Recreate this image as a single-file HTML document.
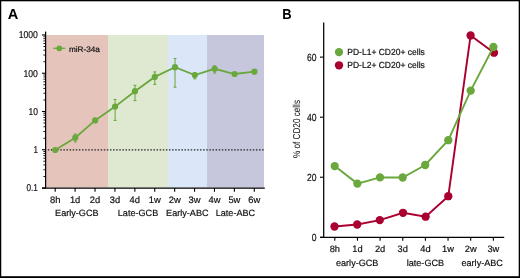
<!DOCTYPE html>
<html><head><meta charset="utf-8"><style>
html,body{margin:0;padding:0;background:#fff;width:520px;height:278px;overflow:hidden;position:relative}
.t{font-family:"Liberation Sans",sans-serif;fill:#111;stroke:#111;stroke-width:0.2px;text-rendering:geometricPrecision}
.ttl{font-family:"Liberation Sans",sans-serif;font-size:14px;font-weight:bold;fill:#000;text-rendering:geometricPrecision}
</style></head><body>
<svg width="520" height="278" viewBox="0 0 520 278" style="position:absolute;left:0;top:0;will-change:transform">
<rect x="0" y="0" width="520" height="278" fill="#fff"/>
<rect x="46" y="35" width="62" height="152.5" fill="#e5c5bb"/>
<rect x="108" y="35" width="60" height="152.5" fill="#dfe8d0"/>
<rect x="168" y="35" width="39" height="152.5" fill="#dbe7f8"/>
<rect x="207" y="35" width="57" height="152.5" fill="#c6c7dc"/>
<line x1="47.85" y1="149.8" x2="264" y2="149.8" stroke="#222" stroke-width="1.3" stroke-dasharray="1.5 1.606"/>
<line x1="45.6" y1="31.6" x2="45.6" y2="188.6" stroke="#000" stroke-width="1.25"/>
<line x1="42" y1="188.0" x2="264.8" y2="188.0" stroke="#000" stroke-width="1.25"/>
<line x1="42" y1="188.00" x2="45.6" y2="188.00" stroke="#000" stroke-width="1.1"/>
<line x1="43.4" y1="176.49" x2="45.6" y2="176.49" stroke="#000" stroke-width="0.9"/>
<line x1="43.4" y1="169.75" x2="45.6" y2="169.75" stroke="#000" stroke-width="0.9"/>
<line x1="43.4" y1="164.97" x2="45.6" y2="164.97" stroke="#000" stroke-width="0.9"/>
<line x1="43.4" y1="161.26" x2="45.6" y2="161.26" stroke="#000" stroke-width="0.9"/>
<line x1="43.4" y1="158.24" x2="45.6" y2="158.24" stroke="#000" stroke-width="0.9"/>
<line x1="43.4" y1="155.67" x2="45.6" y2="155.67" stroke="#000" stroke-width="0.9"/>
<line x1="43.4" y1="153.46" x2="45.6" y2="153.46" stroke="#000" stroke-width="0.9"/>
<line x1="43.4" y1="151.50" x2="45.6" y2="151.50" stroke="#000" stroke-width="0.9"/>
<line x1="42" y1="149.75" x2="45.6" y2="149.75" stroke="#000" stroke-width="1.1"/>
<line x1="43.4" y1="138.24" x2="45.6" y2="138.24" stroke="#000" stroke-width="0.9"/>
<line x1="43.4" y1="131.50" x2="45.6" y2="131.50" stroke="#000" stroke-width="0.9"/>
<line x1="43.4" y1="126.72" x2="45.6" y2="126.72" stroke="#000" stroke-width="0.9"/>
<line x1="43.4" y1="123.01" x2="45.6" y2="123.01" stroke="#000" stroke-width="0.9"/>
<line x1="43.4" y1="119.99" x2="45.6" y2="119.99" stroke="#000" stroke-width="0.9"/>
<line x1="43.4" y1="117.42" x2="45.6" y2="117.42" stroke="#000" stroke-width="0.9"/>
<line x1="43.4" y1="115.21" x2="45.6" y2="115.21" stroke="#000" stroke-width="0.9"/>
<line x1="43.4" y1="113.25" x2="45.6" y2="113.25" stroke="#000" stroke-width="0.9"/>
<line x1="42" y1="111.50" x2="45.6" y2="111.50" stroke="#000" stroke-width="1.1"/>
<line x1="43.4" y1="99.99" x2="45.6" y2="99.99" stroke="#000" stroke-width="0.9"/>
<line x1="43.4" y1="93.25" x2="45.6" y2="93.25" stroke="#000" stroke-width="0.9"/>
<line x1="43.4" y1="88.47" x2="45.6" y2="88.47" stroke="#000" stroke-width="0.9"/>
<line x1="43.4" y1="84.76" x2="45.6" y2="84.76" stroke="#000" stroke-width="0.9"/>
<line x1="43.4" y1="81.74" x2="45.6" y2="81.74" stroke="#000" stroke-width="0.9"/>
<line x1="43.4" y1="79.17" x2="45.6" y2="79.17" stroke="#000" stroke-width="0.9"/>
<line x1="43.4" y1="76.96" x2="45.6" y2="76.96" stroke="#000" stroke-width="0.9"/>
<line x1="43.4" y1="75.00" x2="45.6" y2="75.00" stroke="#000" stroke-width="0.9"/>
<line x1="42" y1="73.25" x2="45.6" y2="73.25" stroke="#000" stroke-width="1.1"/>
<line x1="43.4" y1="61.74" x2="45.6" y2="61.74" stroke="#000" stroke-width="0.9"/>
<line x1="43.4" y1="55.00" x2="45.6" y2="55.00" stroke="#000" stroke-width="0.9"/>
<line x1="43.4" y1="50.22" x2="45.6" y2="50.22" stroke="#000" stroke-width="0.9"/>
<line x1="43.4" y1="46.51" x2="45.6" y2="46.51" stroke="#000" stroke-width="0.9"/>
<line x1="43.4" y1="43.49" x2="45.6" y2="43.49" stroke="#000" stroke-width="0.9"/>
<line x1="43.4" y1="40.92" x2="45.6" y2="40.92" stroke="#000" stroke-width="0.9"/>
<line x1="43.4" y1="38.71" x2="45.6" y2="38.71" stroke="#000" stroke-width="0.9"/>
<line x1="43.4" y1="36.75" x2="45.6" y2="36.75" stroke="#000" stroke-width="0.9"/>
<line x1="42" y1="35.00" x2="45.6" y2="35.00" stroke="#000" stroke-width="1.1"/>
<text transform="translate(37.90,191.30) scale(0.820,1)" text-anchor="end" class="t" font-size="10">0.1</text>
<text transform="translate(37.90,153.05) scale(0.800,1)" text-anchor="end" class="t" font-size="10">1</text>
<text transform="translate(37.90,114.80) scale(0.850,1)" text-anchor="end" class="t" font-size="10">10</text>
<text transform="translate(37.90,76.55) scale(0.860,1)" text-anchor="end" class="t" font-size="10">100</text>
<text transform="translate(37.90,38.30) scale(0.860,1)" text-anchor="end" class="t" font-size="10">1000</text>
<line x1="55.20" y1="188.0" x2="55.20" y2="191.8" stroke="#000" stroke-width="1.1"/>
<text transform="translate(55.20,203.00)" text-anchor="middle" class="t" font-size="9.4">8h</text>
<line x1="75.11" y1="188.0" x2="75.11" y2="191.8" stroke="#000" stroke-width="1.1"/>
<text transform="translate(75.11,203.00)" text-anchor="middle" class="t" font-size="9.4">1d</text>
<line x1="95.02" y1="188.0" x2="95.02" y2="191.8" stroke="#000" stroke-width="1.1"/>
<text transform="translate(95.02,203.00)" text-anchor="middle" class="t" font-size="9.4">2d</text>
<line x1="114.93" y1="188.0" x2="114.93" y2="191.8" stroke="#000" stroke-width="1.1"/>
<text transform="translate(114.93,203.00)" text-anchor="middle" class="t" font-size="9.4">3d</text>
<line x1="134.84" y1="188.0" x2="134.84" y2="191.8" stroke="#000" stroke-width="1.1"/>
<text transform="translate(134.84,203.00)" text-anchor="middle" class="t" font-size="9.4">4d</text>
<line x1="154.75" y1="188.0" x2="154.75" y2="191.8" stroke="#000" stroke-width="1.1"/>
<text transform="translate(154.75,203.00)" text-anchor="middle" class="t" font-size="9.4">1w</text>
<line x1="174.66" y1="188.0" x2="174.66" y2="191.8" stroke="#000" stroke-width="1.1"/>
<text transform="translate(174.66,203.00)" text-anchor="middle" class="t" font-size="9.4">2w</text>
<line x1="194.57" y1="188.0" x2="194.57" y2="191.8" stroke="#000" stroke-width="1.1"/>
<text transform="translate(194.57,203.00)" text-anchor="middle" class="t" font-size="9.4">3w</text>
<line x1="214.48" y1="188.0" x2="214.48" y2="191.8" stroke="#000" stroke-width="1.1"/>
<text transform="translate(214.48,203.00)" text-anchor="middle" class="t" font-size="9.4">4w</text>
<line x1="234.39" y1="188.0" x2="234.39" y2="191.8" stroke="#000" stroke-width="1.1"/>
<text transform="translate(234.39,203.00)" text-anchor="middle" class="t" font-size="9.4">5w</text>
<line x1="254.30" y1="188.0" x2="254.30" y2="191.8" stroke="#000" stroke-width="1.1"/>
<text transform="translate(254.30,203.00)" text-anchor="middle" class="t" font-size="9.4">6w</text>
<text transform="translate(76.80,215.80)" text-anchor="middle" class="t" font-size="9.1">Early-GCB</text>
<text transform="translate(138.00,215.80)" text-anchor="middle" class="t" font-size="9.1">Late-GCB</text>
<text transform="translate(187.30,215.80)" text-anchor="middle" class="t" font-size="9.1">Early-ABC</text>
<text transform="translate(235.40,215.80)" text-anchor="middle" class="t" font-size="9.1">Late-ABC</text>
<line x1="75.3" y1="134" x2="75.3" y2="141.9" stroke="#6aa83e" stroke-width="1.05"/>
<line x1="73.8" y1="134" x2="76.8" y2="134" stroke="#6aa83e" stroke-width="1.05"/>
<line x1="73.8" y1="141.9" x2="76.8" y2="141.9" stroke="#6aa83e" stroke-width="1.05"/>
<line x1="115.1" y1="99.5" x2="115.1" y2="120.4" stroke="#6aa83e" stroke-width="1.05"/>
<line x1="113.6" y1="99.5" x2="116.6" y2="99.5" stroke="#6aa83e" stroke-width="1.05"/>
<line x1="113.6" y1="120.4" x2="116.6" y2="120.4" stroke="#6aa83e" stroke-width="1.05"/>
<line x1="135.0" y1="85.3" x2="135.0" y2="100.6" stroke="#6aa83e" stroke-width="1.05"/>
<line x1="133.5" y1="85.3" x2="136.5" y2="85.3" stroke="#6aa83e" stroke-width="1.05"/>
<line x1="133.5" y1="100.6" x2="136.5" y2="100.6" stroke="#6aa83e" stroke-width="1.05"/>
<line x1="154.8" y1="71.9" x2="154.8" y2="84.4" stroke="#6aa83e" stroke-width="1.05"/>
<line x1="153.3" y1="71.9" x2="156.3" y2="71.9" stroke="#6aa83e" stroke-width="1.05"/>
<line x1="153.3" y1="84.4" x2="156.3" y2="84.4" stroke="#6aa83e" stroke-width="1.05"/>
<line x1="175" y1="58.5" x2="175" y2="87.2" stroke="#6aa83e" stroke-width="1.05"/>
<line x1="173.5" y1="58.5" x2="176.5" y2="58.5" stroke="#6aa83e" stroke-width="1.05"/>
<line x1="173.5" y1="87.2" x2="176.5" y2="87.2" stroke="#6aa83e" stroke-width="1.05"/>
<line x1="194.8" y1="72.7" x2="194.8" y2="78.8" stroke="#6aa83e" stroke-width="1.05"/>
<line x1="193.3" y1="72.7" x2="196.3" y2="72.7" stroke="#6aa83e" stroke-width="1.05"/>
<line x1="193.3" y1="78.8" x2="196.3" y2="78.8" stroke="#6aa83e" stroke-width="1.05"/>
<line x1="214.6" y1="65.8" x2="214.6" y2="73" stroke="#6aa83e" stroke-width="1.05"/>
<line x1="213.1" y1="65.8" x2="216.1" y2="65.8" stroke="#6aa83e" stroke-width="1.05"/>
<line x1="213.1" y1="73" x2="216.1" y2="73" stroke="#6aa83e" stroke-width="1.05"/>
<polyline fill="none" stroke="#6aa83e" stroke-width="1.8" points="55.2,150.0 75.3,137.7 95.1,120.4 115.1,106.6 135.0,91.2 154.8,76.9 175,67.2 194.8,75 214.6,68.8 234.6,74 254.4,71.7"/>
<circle cx="55.2" cy="150.0" r="3.1" fill="#6aa83e"/>
<circle cx="75.3" cy="137.7" r="3.1" fill="#6aa83e"/>
<circle cx="95.1" cy="120.4" r="3.1" fill="#6aa83e"/>
<circle cx="115.1" cy="106.6" r="3.1" fill="#6aa83e"/>
<circle cx="135.0" cy="91.2" r="3.1" fill="#6aa83e"/>
<circle cx="154.8" cy="76.9" r="3.1" fill="#6aa83e"/>
<circle cx="175" cy="67.2" r="3.1" fill="#6aa83e"/>
<circle cx="194.8" cy="75" r="3.1" fill="#6aa83e"/>
<circle cx="214.6" cy="68.8" r="3.1" fill="#6aa83e"/>
<circle cx="234.6" cy="74" r="3.1" fill="#6aa83e"/>
<circle cx="254.4" cy="71.7" r="3.1" fill="#6aa83e"/>
<line x1="53.2" y1="48.3" x2="65.4" y2="48.3" stroke="#6aa83e" stroke-width="1.3"/>
<circle cx="59.3" cy="48.3" r="2.9" fill="#6aa83e"/>
<text x="68.9" y="51.5" class="t" font-size="8" textLength="31" lengthAdjust="spacingAndGlyphs">miR-34a</text>
<text x="7.7" y="19.4" class="ttl" font-size="14.6" style="font-size:14.6px">A</text>
<line x1="323.7" y1="22.6" x2="323.7" y2="237.9" stroke="#000" stroke-width="1.25"/>
<line x1="320.2" y1="237.3" x2="504.2" y2="237.3" stroke="#000" stroke-width="1.25"/>
<line x1="320" y1="237.30" x2="323.7" y2="237.30" stroke="#000" stroke-width="1.1"/>
<text transform="translate(316.40,241.00) scale(0.830,1)" text-anchor="end" class="t" font-size="10.3">0</text>
<line x1="320" y1="177.24" x2="323.7" y2="177.24" stroke="#000" stroke-width="1.1"/>
<text transform="translate(316.40,180.94) scale(0.830,1)" text-anchor="end" class="t" font-size="10.3">20</text>
<line x1="320" y1="117.18" x2="323.7" y2="117.18" stroke="#000" stroke-width="1.1"/>
<text transform="translate(316.40,120.88) scale(0.830,1)" text-anchor="end" class="t" font-size="10.3">40</text>
<line x1="320" y1="57.12" x2="323.7" y2="57.12" stroke="#000" stroke-width="1.1"/>
<text transform="translate(316.40,60.82) scale(0.830,1)" text-anchor="end" class="t" font-size="10.3">60</text>
<line x1="334.80" y1="237.3" x2="334.80" y2="240.8" stroke="#000" stroke-width="1.1"/>
<text transform="translate(334.80,252.40)" text-anchor="middle" class="t" font-size="9.3">8h</text>
<line x1="357.45" y1="237.3" x2="357.45" y2="240.8" stroke="#000" stroke-width="1.1"/>
<text transform="translate(357.45,252.40)" text-anchor="middle" class="t" font-size="9.3">1d</text>
<line x1="380.10" y1="237.3" x2="380.10" y2="240.8" stroke="#000" stroke-width="1.1"/>
<text transform="translate(380.10,252.40)" text-anchor="middle" class="t" font-size="9.3">2d</text>
<line x1="402.75" y1="237.3" x2="402.75" y2="240.8" stroke="#000" stroke-width="1.1"/>
<text transform="translate(402.75,252.40)" text-anchor="middle" class="t" font-size="9.3">3d</text>
<line x1="425.40" y1="237.3" x2="425.40" y2="240.8" stroke="#000" stroke-width="1.1"/>
<text transform="translate(425.40,252.40)" text-anchor="middle" class="t" font-size="9.3">4d</text>
<line x1="448.05" y1="237.3" x2="448.05" y2="240.8" stroke="#000" stroke-width="1.1"/>
<text transform="translate(448.05,252.40)" text-anchor="middle" class="t" font-size="9.3">1w</text>
<line x1="470.70" y1="237.3" x2="470.70" y2="240.8" stroke="#000" stroke-width="1.1"/>
<text transform="translate(470.70,252.40)" text-anchor="middle" class="t" font-size="9.3">2w</text>
<line x1="493.35" y1="237.3" x2="493.35" y2="240.8" stroke="#000" stroke-width="1.1"/>
<text transform="translate(493.35,252.40)" text-anchor="middle" class="t" font-size="9.3">3w</text>
<text transform="translate(357.20,265.80)" text-anchor="middle" class="t" font-size="9.1">early-GCB</text>
<text transform="translate(425.40,265.80)" text-anchor="middle" class="t" font-size="9.1">late-GCB</text>
<text transform="translate(482.20,265.80)" text-anchor="middle" class="t" font-size="9.1">early-ABC</text>
<polyline fill="none" stroke="#a9002f" stroke-width="1.9" points="334.5,226.5 357.2,224.5 379.8,220.1 403,212.8 425.6,216.7 448.3,196.2 470.6,35.5 494,52.7"/>
<circle cx="334.5" cy="226.5" r="4.15" fill="#a9002f"/>
<circle cx="357.2" cy="224.5" r="4.15" fill="#a9002f"/>
<circle cx="379.8" cy="220.1" r="4.15" fill="#a9002f"/>
<circle cx="403" cy="212.8" r="4.15" fill="#a9002f"/>
<circle cx="425.6" cy="216.7" r="4.15" fill="#a9002f"/>
<circle cx="448.3" cy="196.2" r="4.15" fill="#a9002f"/>
<circle cx="470.6" cy="35.5" r="4.15" fill="#a9002f"/>
<circle cx="494" cy="52.7" r="4.15" fill="#a9002f"/>
<polyline fill="none" stroke="#6aa83e" stroke-width="1.9" points="334.7,166.1 357.4,183.6 380,177.4 402.7,177.5 425.2,165 448.3,140.2 470.7,90.6 493.4,47"/>
<circle cx="334.7" cy="166.1" r="4.15" fill="#6aa83e"/>
<circle cx="357.4" cy="183.6" r="4.15" fill="#6aa83e"/>
<circle cx="380" cy="177.4" r="4.15" fill="#6aa83e"/>
<circle cx="402.7" cy="177.5" r="4.15" fill="#6aa83e"/>
<circle cx="425.2" cy="165" r="4.15" fill="#6aa83e"/>
<circle cx="448.3" cy="140.2" r="4.15" fill="#6aa83e"/>
<circle cx="470.7" cy="90.6" r="4.15" fill="#6aa83e"/>
<circle cx="493.4" cy="47" r="4.15" fill="#6aa83e"/>
<circle cx="339" cy="52.1" r="4.15" fill="#6aa83e"/>
<circle cx="339" cy="65.3" r="4.15" fill="#a9002f"/>
<text x="347.3" y="54.6" class="t" font-size="8.8" textLength="77.5" lengthAdjust="spacingAndGlyphs">PD-L1+ CD20+ cells</text>
<text x="347.3" y="68.1" class="t" font-size="8.8" textLength="77.5" lengthAdjust="spacingAndGlyphs">PD-L2+ CD20+ cells</text>
<text transform="translate(299.7,129.0) rotate(-90)" text-anchor="middle" class="t" style="stroke-width:0.05px" font-size="10" textLength="58" lengthAdjust="spacingAndGlyphs">% of CD20 cells</text>
<text x="282.3" y="19.3" class="ttl" style="font-size:14.4px" transform="translate(282.3,0) scale(0.9,1) translate(-282.3,0)">B</text>
<rect x="0" y="0" width="520" height="1.3" fill="#000"/>
<rect x="0" y="0" width="1.25" height="278" fill="#000"/>
<rect x="518.7" y="0" width="1.3" height="278" fill="#000"/>
<rect x="0" y="276.2" width="520" height="1.8" fill="#000"/>
</svg>
</body></html>
